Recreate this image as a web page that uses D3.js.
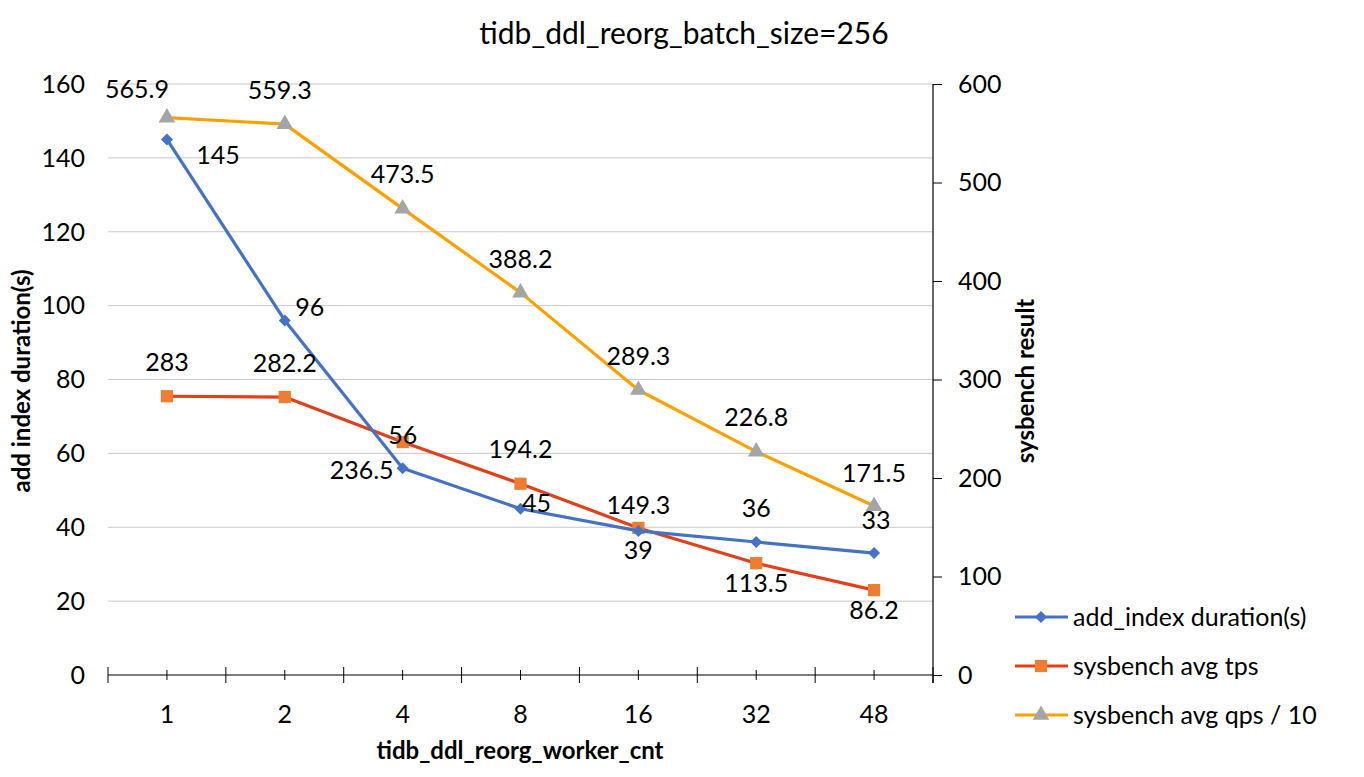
<!DOCTYPE html>
<html>
<head>
<meta charset="utf-8">
<script src="https://cdn.jsdelivr.net/npm/d3@7"></script>
<style>
  body { margin: 0; background: #fff; }
  text { font-family: Lato, "Open Sans", sans-serif; fill: #000; }
</style>
</head>
<body>
<svg id="chart" width="1364" height="777"></svg>
<script>
const categories = ["1", "2", "4", "8", "16", "32", "48"];
const duration = [145, 96, 56, 45, 39, 36, 33];
const avgTps = [283, 282.2, 236.5, 194.2, 149.3, 113.5, 86.2];
const avgQps10 = [565.9, 559.3, 473.5, 388.2, 289.3, 226.8, 171.5];
const leftTicks = [0, 20, 40, 60, 80, 100, 120, 140, 160];
const rightTicks = [0, 100, 200, 300, 400, 500, 600];

// label offsets (dx, dy) from each point, like Excel placed them
const durOff = [[51, 16], [25, -13], [0, -33], [16, -6], [0, 19], [0, -34], [2, -33]];
const tpsOff = [[0, -34], [0, -34], [-41, 28], [0, -34], [0, -23], [0, 20], [0, 20]];
const qpsOff = [[-30, -28], [-5, -34], [0, -34], [0, -33], [0, -34], [0, -34], [0, -33]];

const FS = "25px";
const svg = d3.select("#chart");
const margin = { top: 84, right: 431, bottom: 102, left: 108 };
const W = 1364 - margin.left - margin.right;
const H = 777 - margin.top - margin.bottom;

const g = svg.append("g").attr("transform", `translate(${margin.left},${margin.top})`);

const x = d3.scaleBand().domain(categories).range([0, W]);
const yL = d3.scaleLinear().domain([0, 160]).range([H, 0]);
const yR = d3.scaleLinear().domain([0, 600]).range([H, 0]);
const cx = d => x(d) + x.bandwidth() / 2;

// gridlines
g.selectAll(".grid").data(leftTicks.slice(1)).enter().append("line")
  .attr("x1", 0).attr("x2", W)
  .attr("y1", d => yL(d)).attr("y2", d => yL(d))
  .attr("stroke", "#c8c8c8").attr("stroke-width", 1);

// left tick labels
g.selectAll(".lt").data(leftTicks).enter().append("text")
  .attr("x", -23).attr("y", d => yL(d)).attr("dy", "0.35em")
  .attr("text-anchor", "end").style("font-size", FS).text(d => d);

// right axis
const ra = g.append("g").attr("transform", `translate(${W},0)`)
  .call(d3.axisRight(yR).tickValues(rightTicks).tickSize(9).tickPadding(16));
ra.select(".domain").attr("stroke", "#000").attr("stroke-width", 1.2).attr("d", `M0,0V${H + 8}`);
ra.selectAll(".tick line").attr("stroke", "#000");
ra.selectAll("text").style("font-size", FS).style("font-family", "Lato, sans-serif").attr("fill", "#000");

// x axis
g.append("line").attr("x1", 0).attr("x2", W).attr("y1", H).attr("y2", H).attr("stroke", "#000").attr("stroke-width", 1.2);
const bounds = categories.map(c => x(c)).concat([W]);
g.selectAll(".xb").data(bounds).enter().append("line")
  .attr("x1", d => d).attr("x2", d => d).attr("y1", H - 8).attr("y2", H + 8)
  .attr("stroke", "#000");
g.selectAll(".xm").data(categories).enter().append("line")
  .attr("x1", d => cx(d)).attr("x2", d => cx(d)).attr("y1", H - 5).attr("y2", H + 5)
  .attr("stroke", "#000");
g.selectAll(".xl").data(categories).enter().append("text")
  .attr("x", d => cx(d)).attr("y", H + 48).attr("text-anchor", "middle")
  .style("font-size", FS).text(d => d);

const series = [
  { name: "sysbench avg qps / 10", vals: avgQps10, y: yR, line: "#FFA000", fill: "#A5A5A5", shape: d3.symbolTriangle, size: 120, rot: 0, off: qpsOff },
  { name: "sysbench avg tps", vals: avgTps, y: yR, line: "#E2401B", fill: "#ED7D31", shape: d3.symbolSquare, size: 150, rot: 0, off: tpsOff },
  { name: "add_index duration(s)", vals: duration, y: yL, line: "#4472C4", fill: "#4472C4", shape: d3.symbolSquare, size: 72, rot: 45, off: durOff }
];

series.forEach(s => {
  const line = d3.line().x((d, i) => cx(categories[i])).y(d => s.y(d));
  g.append("path").datum(s.vals).attr("d", line)
    .attr("fill", "none").attr("stroke", s.line).attr("stroke-width", 3.2)
    .attr("stroke-linejoin", "round");
  g.selectAll(null).data(s.vals).enter().append("path")
    .attr("d", d3.symbol().type(s.shape).size(s.size))
    .attr("transform", (d, i) => `translate(${cx(categories[i])},${s.y(d)}) rotate(${s.rot})`)
    .attr("fill", s.fill);
});

series.forEach(s => {
  g.selectAll(null).data(s.vals).enter().append("text")
    .attr("x", (d, i) => cx(categories[i]) + s.off[i][0])
    .attr("y", (d, i) => s.y(d) + s.off[i][1]).attr("dy", "0.35em")
    .attr("text-anchor", "middle").style("font-size", FS).text(d => d);
});

// titles
svg.append("text").attr("x", 684).attr("y", 44).attr("text-anchor", "middle")
  .style("font-size", "30px").text("tidb_ddl_reorg_batch_size=256");
svg.append("text").attr("x", 520).attr("y", 759).attr("text-anchor", "middle")
  .style("font-size", "24px").style("font-weight", "bold").text("tidb_ddl_reorg_worker_cnt");
svg.append("text").attr("transform", "translate(30,381) rotate(-90)").attr("text-anchor", "middle")
  .style("font-size", "24px").style("font-weight", "bold").text("add index duration(s)");
svg.append("text").attr("transform", "translate(1034,381) rotate(-90)").attr("text-anchor", "middle")
  .style("font-size", "24px").style("font-weight", "bold").text("sysbench result");

// legend
const legend = svg.append("g").attr("transform", "translate(1015,617)");
series.slice().reverse().forEach((s, i) => {
  const row = legend.append("g").attr("transform", `translate(0,${i * 49})`);
  row.append("line").attr("x1", 0).attr("x2", 53).attr("stroke", s.line).attr("stroke-width", 3.2);
  row.append("path").attr("d", d3.symbol().type(s.shape).size(s.size)).attr("transform", `translate(26,0) rotate(${s.rot})`).attr("fill", s.fill);
  row.append("text").attr("x", 58).attr("dy", "0.35em").style("font-size", FS).text(s.name);
});
</script>
</body>
</html>
